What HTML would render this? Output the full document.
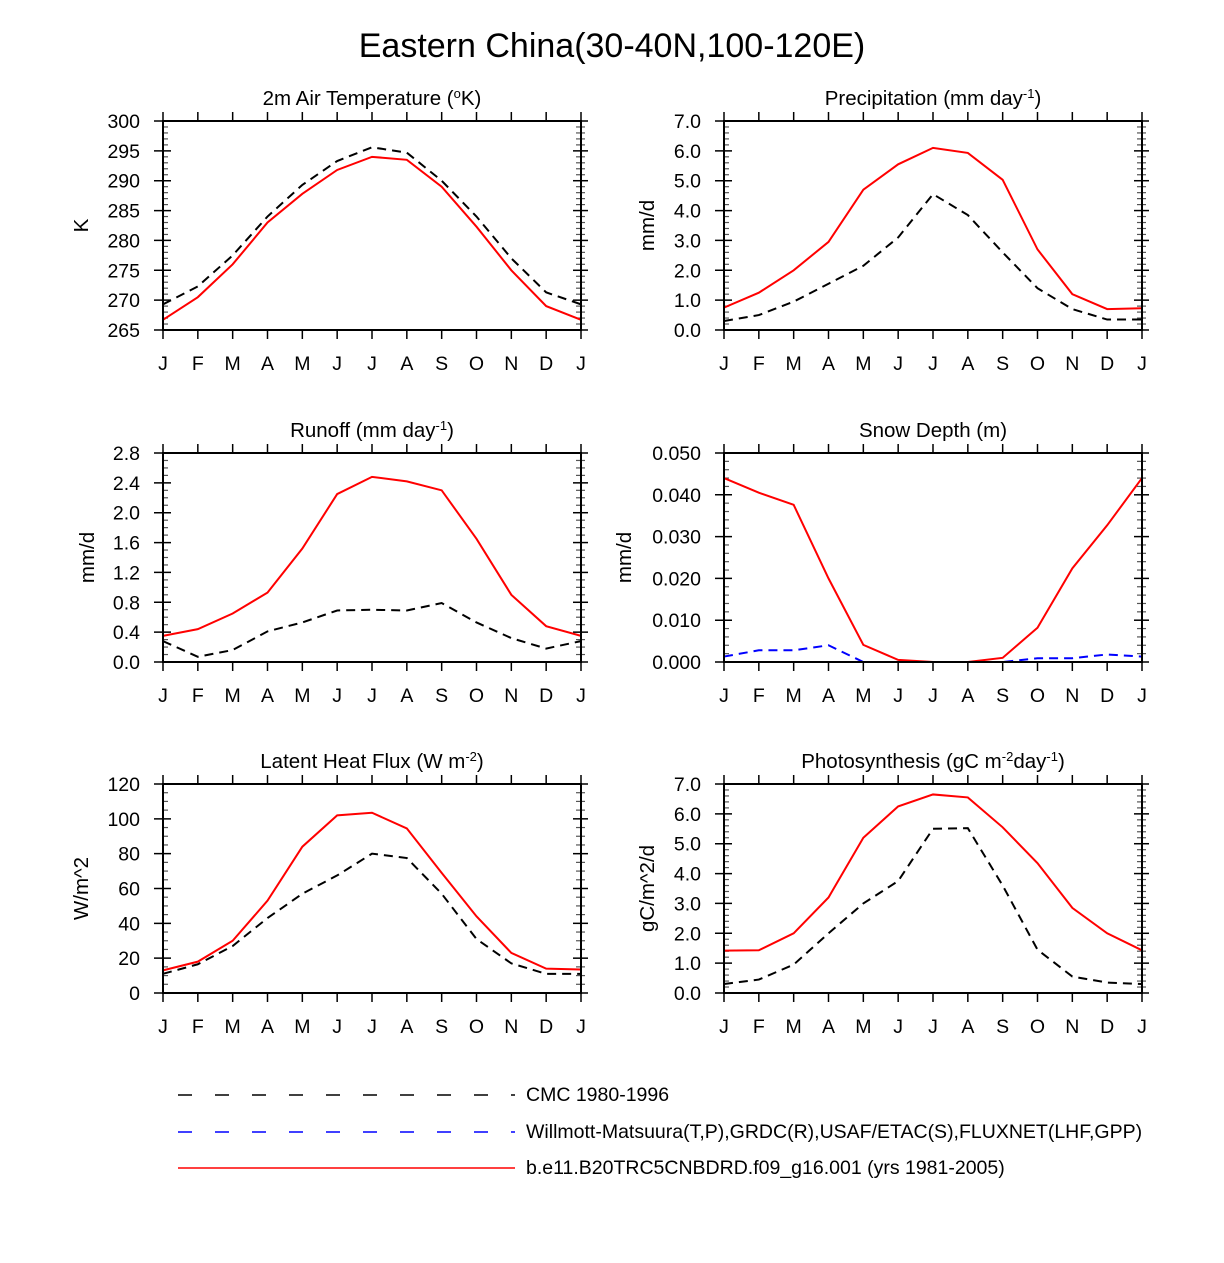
<!DOCTYPE html>
<html><head><meta charset="utf-8"><style>
body{margin:0;background:#fff}
svg text{font-family:"Liberation Sans",Arial,sans-serif;fill:#000}
</style></head><body>
<svg id="c" width="1224" height="1258" xmlns="http://www.w3.org/2000/svg">
<text x="612" y="57" font-size="34" text-anchor="middle">Eastern China(30-40N,100-120E)</text>
<g>
<line x1="178" y1="1095" x2="515" y2="1095" stroke="#000" stroke-width="1.5" stroke-dasharray="14,23"/>
<text x="526" y="1101" font-size="19.5">CMC 1980-1996</text>
<line x1="178" y1="1132" x2="515" y2="1132" stroke="#00f" stroke-width="1.5" stroke-dasharray="14,23"/>
<text x="526" y="1138" font-size="19.5">Willmott-Matsuura(T,P),GRDC(R),USAF/ETAC(S),FLUXNET(LHF,GPP)</text>
<line x1="178" y1="1168" x2="515" y2="1168" stroke="#f00" stroke-width="1.5"/>
<text x="526" y="1174" font-size="19.5">b.e11.B20TRC5CNBDRD.f09_g16.001 (yrs 1981-2005)</text>
</g>
</svg>
<script>
const months=["J","F","M","A","M","J","J","A","S","O","N","D","J"];
const tempModel=[266.7,270.5,276,283,287.8,291.8,294,293.5,289,282.3,275,269,266.7];
const tempCMC=[269.3,272.3,277.5,284,289.3,293.3,295.6,294.7,290,284,277,271.3,269.3];
const precModel=[0.75,1.25,2.0,2.95,4.7,5.55,6.1,5.93,5.03,2.7,1.2,0.7,0.73];
const precCMC=[0.3,0.5,0.95,1.55,2.15,3.1,4.55,3.85,2.6,1.4,0.7,0.35,0.35];
const runModel=[0.35,0.44,0.65,0.93,1.52,2.25,2.48,2.42,2.3,1.65,0.9,0.48,0.35];
const runCMC=[0.28,0.07,0.16,0.41,0.53,0.69,0.7,0.69,0.79,0.53,0.32,0.18,0.28];
const snowModel=[0.044,0.0405,0.0376,0.020,0.0041,0.0005,0,0,0.001,0.0082,0.0224,0.0327,0.044];
const snowObs=[0.0013,0.0028,0.0028,0.0040,0,0,0,0,0,0.0009,0.0009,0.0018,0.0013];
const snowCMC=[0,0,0,0,0,0,0,0,0,0,0,0,0];
const lhfModel=[13,18,30,53,84,102,103.5,94.5,69,44,23,14,13.5];
const lhfCMC=[11,16.5,27,43,57,67.5,80,77.5,57,31,17,11,11];
const gppModel=[1.42,1.43,2.0,3.2,5.2,6.25,6.65,6.55,5.55,4.35,2.85,2.0,1.43];
const gppCMC=[0.3,0.45,0.95,2.0,3.0,3.75,5.5,5.52,3.6,1.45,0.55,0.35,0.3];
const tempTicks=["265","270","275","280","285","290","295","300"];
const precTicks=["0.0","1.0","2.0","3.0","4.0","5.0","6.0","7.0"];
const runTicks=["0.0","0.4","0.8","1.2","1.6","2.0","2.4","2.8"];
const snowTicks=["0.000","0.010","0.020","0.030","0.040","0.050"];
const lhfTicks=["0","20","40","60","80","100","120"];
const gppTicks=["0.0","1.0","2.0","3.0","4.0","5.0","6.0","7.0"];

const svg=document.getElementById('c');
const NS="http://www.w3.org/2000/svg";
function mk(tag,attrs,parent){const e=document.createElementNS(NS,tag);for(const k in attrs)e.setAttribute(k,attrs[k]);parent.appendChild(e);return e;}

function panel(o){
  const g=mk('g',{},svg);
  
  
  const x0=o.x,x1=o.x+418,y0=o.y,y1=o.y+209;
  const ticks=o.ticks.map(Number);
  const lo=ticks[0],hi=ticks[ticks.length-1];
  const sx=i=>x0+(x1-x0)*i/(months.length-1);
  const sy=v=>y1-(y1-y0)*(v-lo)/(hi-lo);
  const step=ticks[1]-ticks[0];
  for(let t=0;t<ticks.length-1;t++){
    for(let m=1;m<=o.minor;m++){
      const v=ticks[t]+step*m/(o.minor+1);const y=sy(v);
      mk('line',{x1:x0,y1:y,x2:x0+5,y2:y,stroke:'#555','stroke-width':1.2},g);
      mk('line',{x1:x1-5,y1:y,x2:x1+4,y2:y,stroke:'#555','stroke-width':1.2},g);
    }
  }
  o.ticks.forEach(lbl=>{
    const y=sy(Number(lbl));
    mk('line',{x1:x0-9,y1:y,x2:x0+8,y2:y,stroke:'#000','stroke-width':1.5},g);
    mk('line',{x1:x1-8,y1:y,x2:x1+7,y2:y,stroke:'#000','stroke-width':1.5},g);
    const t=mk('text',{x:x0-23,y:y+7,'font-size':19.5,'text-anchor':'end'},g);
    t.textContent=lbl;
    
    
  });
  months.forEach((m,i)=>{
    const x=sx(i);
    mk('line',{x1:x,y1:y1,x2:x,y2:y1+9,stroke:'#000','stroke-width':1.5},g);
    mk('line',{x1:x,y1:y0-9,x2:x,y2:y0,stroke:'#000','stroke-width':1.5},g);
    const t=mk('text',{x:x,y:y1+40,'font-size':19.5,'text-anchor':'middle'},g);
    t.textContent=m;
    
    
  });
  o.series.forEach(s=>{
    const p=mk('polyline',{points:s.data.map((v,i)=>sx(i)+','+sy(v)).join(' '),fill:'none',stroke:s.c,'stroke-width':2,'stroke-dasharray':s.d||'none'},g);
    
    
  });
  const fr=mk('rect',{x:x0,y:y0,width:x1-x0,height:y1-y0,fill:'none',stroke:'#000','stroke-width':2},g);
  
  
  const ti=mk('text',{x:(x0+x1)/2,y:y0-16,'font-size':20.5,'text-anchor':'middle'},g);
  ti.innerHTML=o.title;
  
  
  const yl=mk('text',{x:0,y:0,'font-size':20.5,'text-anchor':'middle',transform:`translate(${o.ylx},${(y0+y1)/2}) rotate(-90)`},g);
  yl.textContent=o.ylabel;
  
  
}
const sup=s=>`<tspan baseline-shift="super" font-size="13">${s}</tspan>`;
const D='9,6';
panel({name:'panel-temperature',x:163,y:121,ticks:tempTicks,minor:4,ylabel:'K',ylx:88,title:`2m Air Temperature (${sup('o')}K)`,
 series:[{data:tempCMC,c:'#000',d:D,n:'line-temp-cmc'},{data:tempModel,c:'#f00',n:'line-temp-model'}]});
panel({name:'panel-precipitation',x:724,y:121,ticks:precTicks,minor:4,ylabel:'mm/d',ylx:654,title:`Precipitation (mm day${sup('-1')})`,
 series:[{data:precCMC,c:'#000',d:D,n:'line-prec-cmc'},{data:precModel,c:'#f00',n:'line-prec-model'}]});
panel({name:'panel-runoff',x:163,y:453,ticks:runTicks,minor:3,ylabel:'mm/d',ylx:94,title:`Runoff (mm day${sup('-1')})`,
 series:[{data:runCMC,c:'#000',d:D,n:'line-runoff-cmc'},{data:runModel,c:'#f00',n:'line-runoff-model'}]});
panel({name:'panel-snow-depth',x:724,y:453,ticks:snowTicks,minor:4,ylabel:'mm/d',ylx:631,title:'Snow Depth (m)',
 series:[{data:snowCMC,c:'#000',d:D,n:'line-snow-cmc'},{data:snowObs,c:'#00f',d:D,n:'line-snow-obs'},{data:snowModel,c:'#f00',n:'line-snow-model'}]});
panel({name:'panel-latent-heat',x:163,y:784,ticks:lhfTicks,minor:3,ylabel:'W/m^2',ylx:88,title:`Latent Heat Flux (W m${sup('-2')})`,
 series:[{data:lhfCMC,c:'#000',d:D,n:'line-lhf-cmc'},{data:lhfModel,c:'#f00',n:'line-lhf-model'}]});
panel({name:'panel-photosynthesis',x:724,y:784,ticks:gppTicks,minor:4,ylabel:'gC/m^2/d',ylx:654,title:`Photosynthesis (gC m${sup('-2')}day${sup('-1')})`,
 series:[{data:gppCMC,c:'#000',d:D,n:'line-gpp-cmc'},{data:gppModel,c:'#f00',n:'line-gpp-model'}]});
</script>
</body></html>
